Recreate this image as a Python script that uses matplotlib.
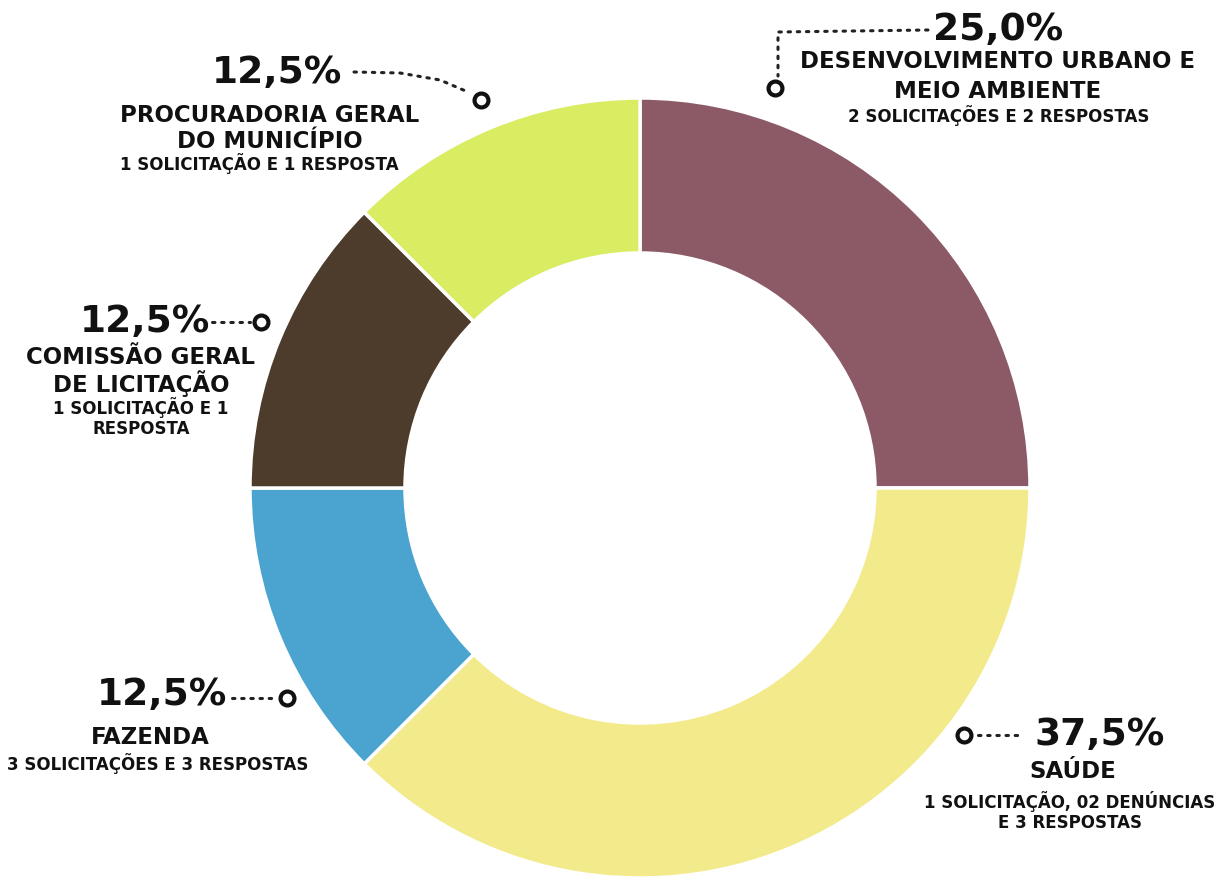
import numpy as np
import matplotlib.pyplot as plt

# data
labels = ["DESENVOLVIMENTO URBANO E\nMEIO AMBIENTE", "SAÚDE", "FAZENDA",
          "COMISSÃO GERAL\nDE LICITAÇÃO", "PROCURADORIA GERAL\nDO MUNICÍPIO"]
values = [25.0, 37.5, 12.5, 12.5, 12.5]
details = ["2 SOLICITAÇÕES E 2 RESPOSTAS",
           "1 SOLICITAÇÃO, 02 DENÚNCIAS\nE 3 RESPOSTAS",
           "3 SOLICITAÇÕES E 3 RESPOSTAS",
           "1 SOLICITAÇÃO E 1\nRESPOSTA",
           "1 SOLICITAÇÃO E 1 RESPOSTA"]
pct_labels = [("%.1f%%" % v).replace(".", ",") for v in values]
colors = ["#8b5a66", "#f3ea8c", "#4ba4cf", "#4d3c2b", "#d9ec62"]

W, H = 1225, 884
fig = plt.figure(figsize=(W / 100, H / 100), dpi=100)
ax = fig.add_axes([0, 0, 1, 1])

def Y(py):
    return H - py

ax.pie(values, colors=colors, startangle=90, counterclock=False,
       center=(640, Y(488)), radius=390, frame=True,
       wedgeprops=dict(width=155, edgecolor="white", linewidth=2.5))
ax.set_xlim(0, W)
ax.set_ylim(0, H)
ax.set_aspect("equal")
ax.axis("off")

fam = "DejaVu Sans"

def put(x, ys, text, size):
    for y, line in zip(ys, text.split("\n")):
        ax.text(x, Y(y), line, ha="center", va="center", fontsize=size,
                fontweight="bold", family=fam, color="#111111")

# label layout: (x, y) of percentage, x + line ys of title, x + line ys of detail
layout = [
    ((998, 30), (998, [62, 92]), (999, [116])),
    ((1100, 735), (1073, [772]), (1070, [802, 823])),
    ((162, 695), (150, [737]), (158, [764])),
    ((145, 322), (141, [358, 384]), (141, [408, 429])),
    ((277, 73), (270, [116, 142]), (259, [164])),
]
for i in range(len(values)):
    (px, py), (tx, tys), (dx, dys) = layout[i]
    put(px, [py], pct_labels[i], 27)
    put(tx, tys, labels[i], 16.5)
    put(dx, dys, details[i], 12)

# connectors
dots = dict(color="#222222", linewidth=2.2, linestyle=(0, (0.8, 2.2)),
            solid_capstyle="round", dash_capstyle="round")
paths = [
    ([928, 778, 778], [30, 32, 76]),
    ([978, 1022], [735, 735]),
    ([232, 275], [698, 698]),
    ([212, 250], [322, 322]),
    ([354, 400, 440, 468], [72, 73, 80, 92]),
]
circles = [(775, 88), (964, 735), (287, 698), (261, 322), (481, 100)]
for (xs, ys), (cx, cy) in zip(paths, circles):
    ax.plot(xs, [Y(v) for v in ys], **dots)
    ax.plot(cx, Y(cy), "o", markersize=10, markerfacecolor="white",
            markeredgecolor="#111111", markeredgewidth=3)

fig.savefig("out.png", dpi=100, facecolor="white")
